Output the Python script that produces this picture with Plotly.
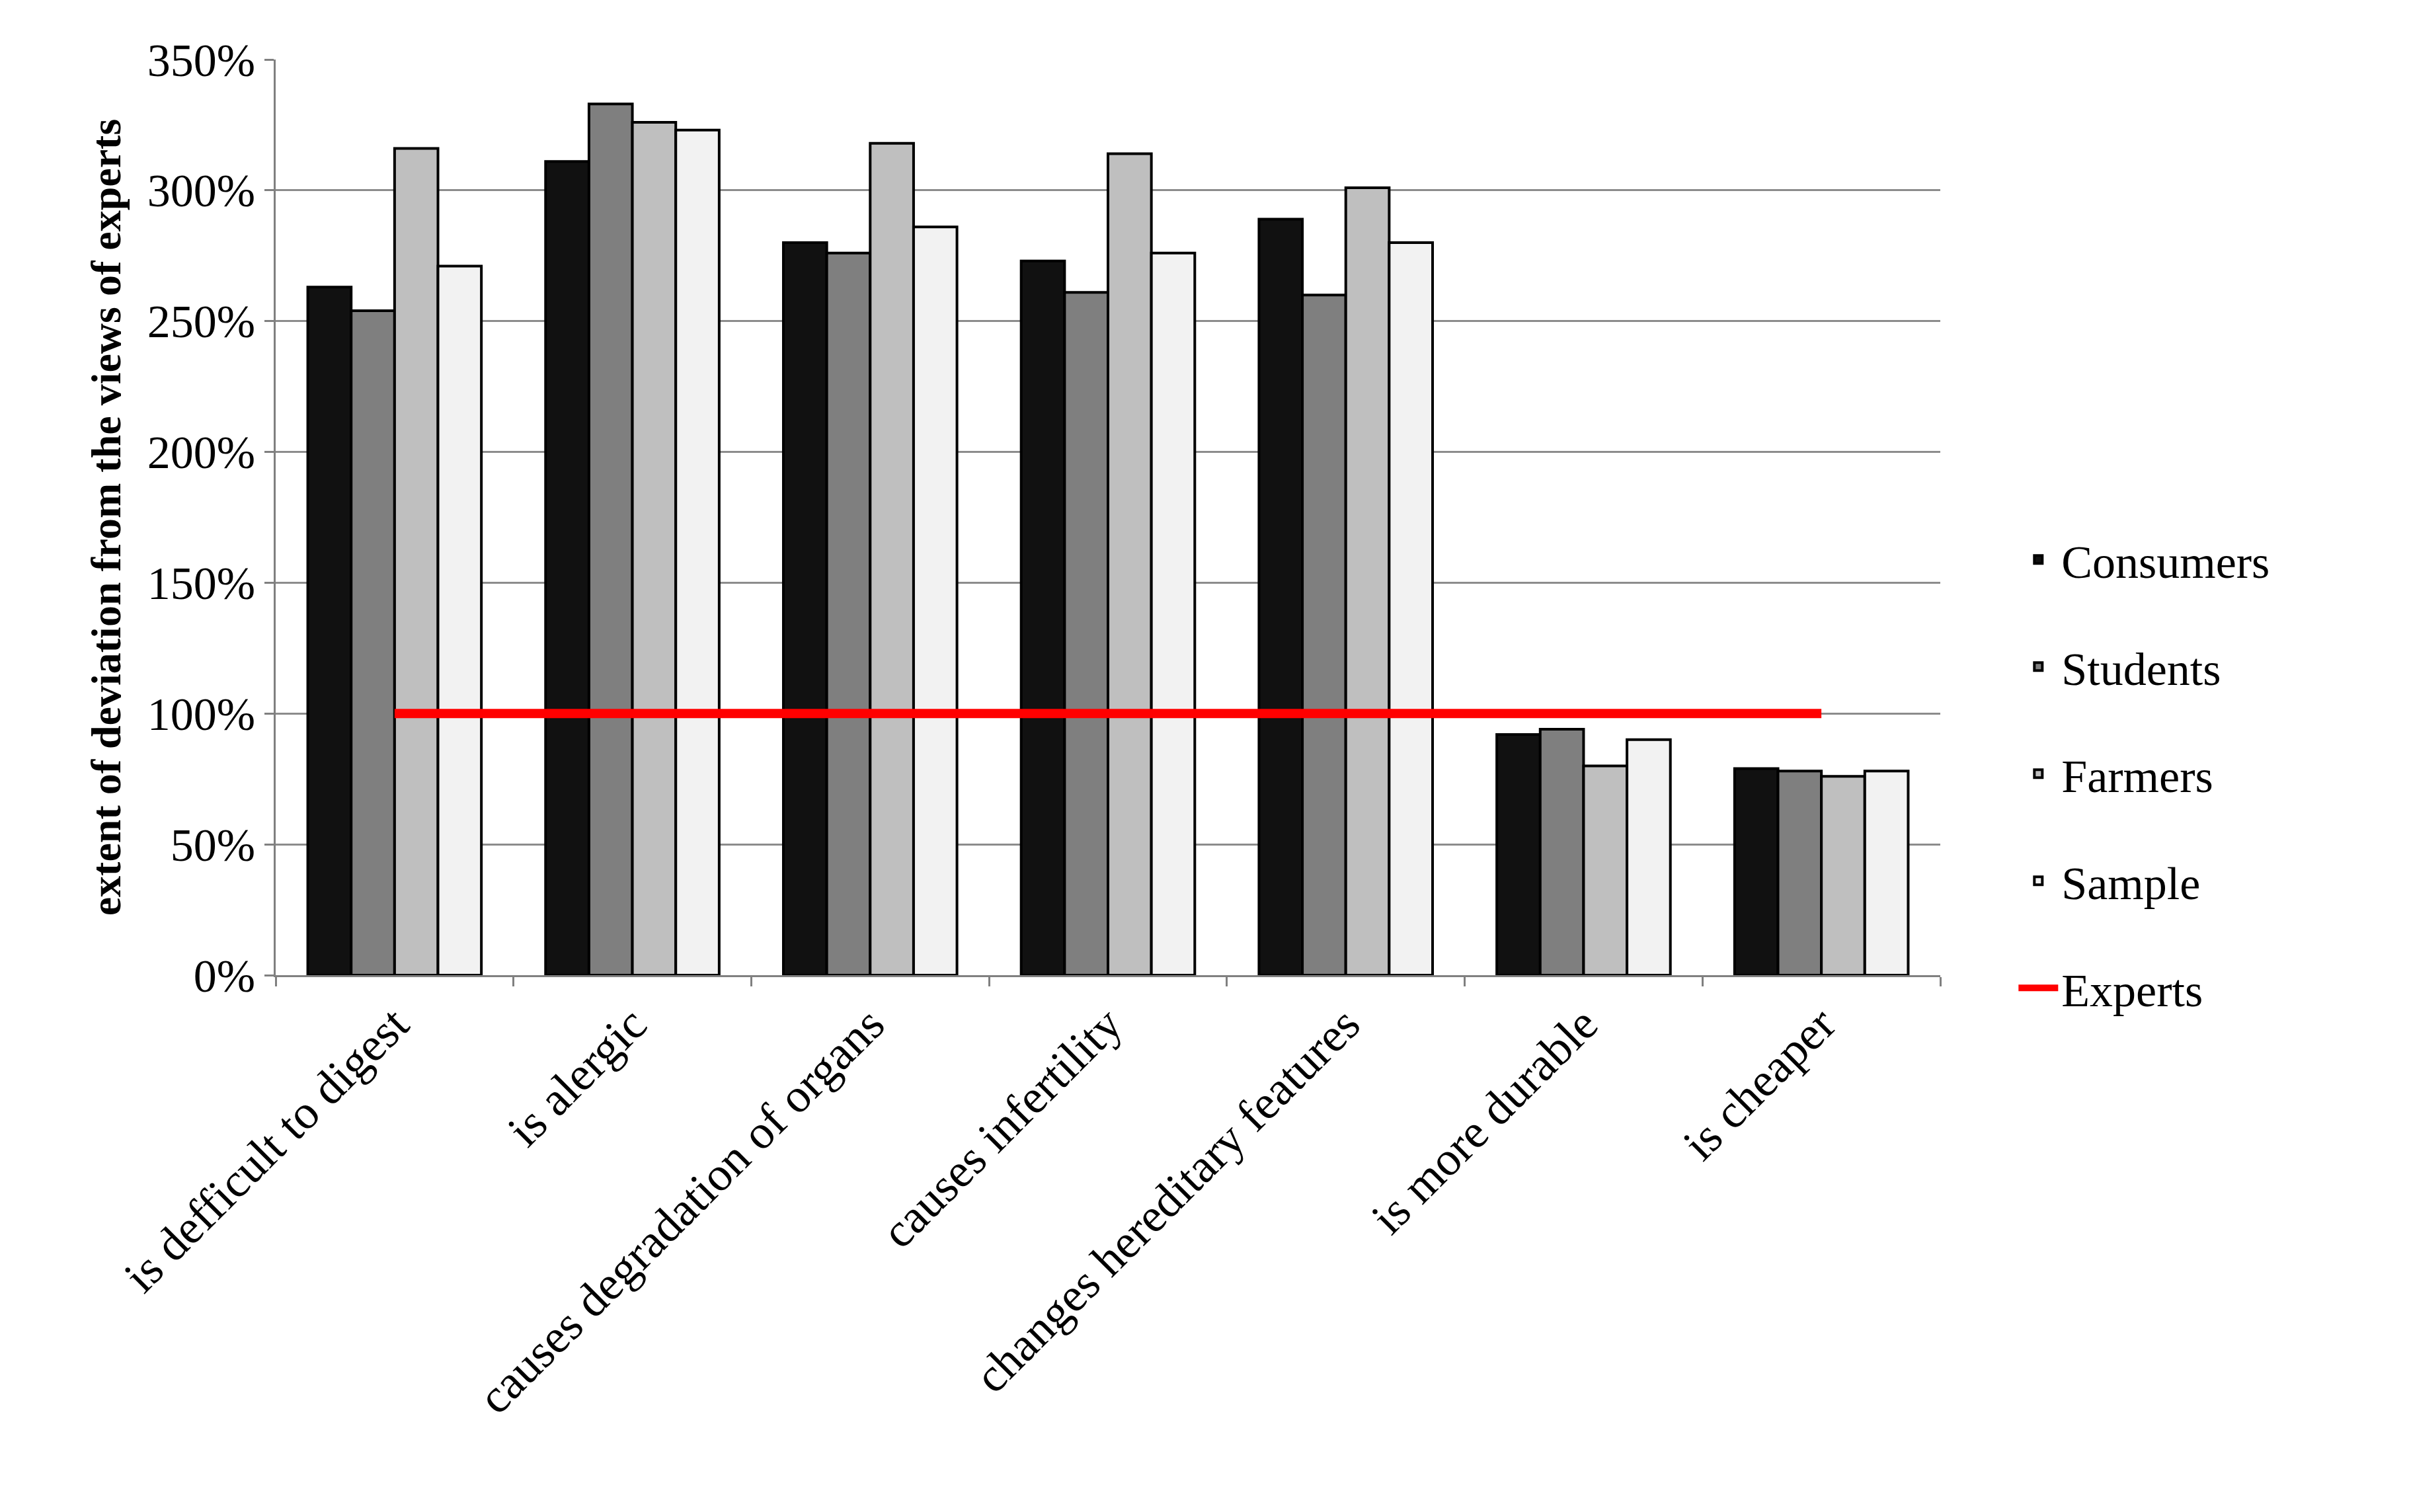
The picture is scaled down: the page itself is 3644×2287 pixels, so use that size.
import plotly.graph_objects as go

categories = ["is defficult to digest", "is alergic", "causes degradation of organs",
              "causes infertility", "changes hereditary features", "is more durable", "is cheaper"]
consumers = [263, 311, 280, 273, 289, 92, 79]
students = [254, 333, 276, 261, 260, 94, 78]
farmers = [316, 326, 318, 314, 301, 80, 76]
sample = [271, 323, 286, 276, 280, 90, 78]
experts = [100] * 7
yticks = [0, 50, 100, 150, 200, 250, 300, 350]

font = "Liberation Serif"
fig = go.Figure()
for name, vals, col in [("Consumers", consumers, "#111111"), ("Students", students, "#7f7f7f"),
                        ("Farmers", farmers, "#bfbfbf"), ("Sample", sample, "#f2f2f2")]:
    fig.add_trace(go.Bar(x=categories, y=vals, name=name, legendgroup=name,
                         marker=dict(color=col, line=dict(color="black", width=4))))
fig.add_trace(go.Scatter(x=categories, y=experts, name="Experts", legendgroup="Experts", mode="lines",
                         line=dict(color="#ff0000", width=14)))
fig.update_layout(
    width=3644, height=2287, barmode="group", bargap=0.27, bargroupgap=0,
    plot_bgcolor="white", paper_bgcolor="white",
    margin=dict(l=409, r=717, t=82, b=820),
    font=dict(family=font, size=70, color="black"),
    legend=dict(x=1.045, y=0.22, yanchor="middle", xanchor="left", tracegroupgap=68,
                font=dict(size=70), itemwidth=60),
    xaxis=dict(tickangle=-45, ticks="outside", tickson="boundaries", ticklen=14, tickwidth=3,
               tickcolor="#808080", showline=True, linecolor="#808080", linewidth=3, tickfont=dict(size=72)),
    yaxis=dict(range=[0, 350], tickvals=yticks, ticktext=[f"{v}%" for v in yticks],
               showgrid=True, gridcolor="#8c8c8c", gridwidth=3, showline=True, linecolor="#808080",
               linewidth=3, ticks="outside", ticklen=14, tickcolor="#808080", tickwidth=3,
               tickfont=dict(size=70),
               title=dict(text="<b>extent of deviation from the views of experts</b>", font=dict(size=64), standoff=20)),
)
fig.write_html("out.html")
